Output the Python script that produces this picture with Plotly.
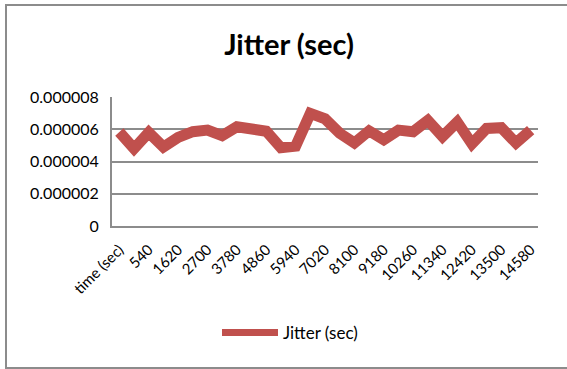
import plotly.graph_objects as go

categories = ["time (sec)"] + [str(540 * k) for k in range(28)]
jitter = [5.83e-6, 4.8e-6, 5.8e-6, 4.9e-6, 5.5e-6, 5.85e-6, 5.95e-6, 5.6e-6,
          6.15e-6, 6.02e-6, 5.88e-6, 4.85e-6, 4.95e-6, 6.98e-6, 6.65e-6, 5.75e-6,
          5.15e-6, 5.9e-6, 5.35e-6, 5.95e-6, 5.85e-6, 6.55e-6, 5.55e-6, 6.45e-6,
          5.1e-6, 6.05e-6, 6.1e-6, 5.15e-6, 5.95e-6]
x_tick_labels = categories[::2]
y_tick_vals = [0, 2e-6, 4e-6, 6e-6, 8e-6]
y_tick_text = ["0", "0.000002", "0.000004", "0.000006", "0.000008"]

FONT = "Lato"
GRID = "#8C8C8C"
RED = "#C0504D"

fig = go.Figure()
fig.add_trace(go.Scatter(
    x=categories, y=jitter, mode="lines", name="Jitter (sec)",
    line=dict(color=RED, width=11), showlegend=False,
))
fig.add_trace(go.Scatter(
    x=[categories[0]], y=[None], mode="lines", name="Jitter (sec)",
    line=dict(color=RED, width=7), showlegend=True, hoverinfo="skip",
))

W, H = 567, 369
L, R, T, B = 112, 538, 97, 226

fig.update_layout(
    width=W, height=H,
    margin=dict(l=L, r=W - R, t=T, b=H - B, pad=0),
    paper_bgcolor="white", plot_bgcolor="white",
    font=dict(family=FONT, color="#000000", size=14),
    title=dict(text="<b>Jitter (sec)</b>", x=289 / W, xanchor="center",
               y=1 - 45 / H, yanchor="middle",
               font=dict(family=FONT, size=29, color="#000000")),
    showlegend=True,
    legend=dict(orientation="h", x=(217 - L) / (R - L), xanchor="left",
                y=(B - 333) / (B - T), yanchor="middle",
                font=dict(family=FONT, size=17), itemwidth=56,
                bgcolor="rgba(0,0,0,0)"),
    xaxis=dict(type="category", tickmode="array", tickvals=x_tick_labels,
               ticktext=x_tick_labels, tickangle=-45, showgrid=False,
               showline=True, linecolor=GRID, linewidth=2, ticks="",
               ticklabelstandoff=7,
               tickfont=dict(family=FONT, size=15), zeroline=False,
               range=[-0.5, len(categories) - 0.5]),
    yaxis=dict(range=[0, 8e-6], tickmode="array", tickvals=y_tick_vals,
               ticktext=y_tick_text, showgrid=True, gridcolor=GRID,
               gridwidth=2, showline=True, linecolor=GRID, linewidth=2,
               zeroline=False, ticks="", ticklabelstandoff=8,
               tickfont=dict(family=FONT, size=16)),
    shapes=[dict(type="rect", xref="paper", yref="paper",
                 x0=(6 - L) / (R - L), x1=(575 - L) / (R - L),
                 y0=(B - 368) / (B - T), y1=(B - 5) / (B - T),
                 line=dict(color=GRID, width=2), fillcolor="rgba(0,0,0,0)",
                 layer="below")],
)

fig.write_html("out.html", config={"displayModeBar": False},
               post_script="document.body.style.margin='0';")
